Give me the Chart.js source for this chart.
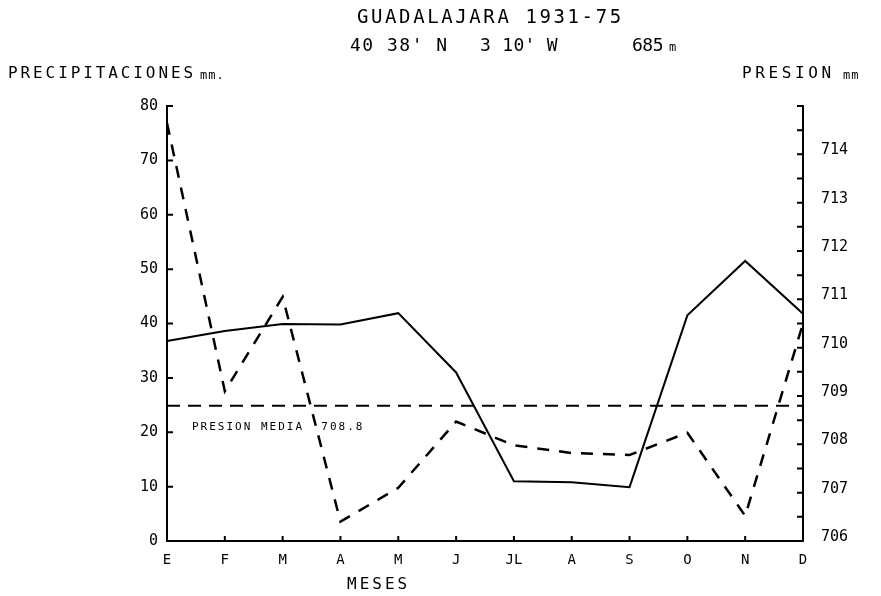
<!DOCTYPE html>
<html>
<head>
<meta charset="utf-8">
<script src="https://cdn.jsdelivr.net/npm/chart.js@4/dist/chart.umd.min.js"></script>
<style>
  body { margin: 0; background: #fff; }
</style>
</head>
<body>
<canvas id="climaChart" width="881" height="596"></canvas>
<script>
const months = ['E', 'F', 'M', 'A', 'M', 'J', 'JL', 'A', 'S', 'O', 'N', 'D'];
const precipitation = [36.8, 38.6, 39.9, 39.8, 41.9, 31, 11, 10.8, 9.9, 41.5, 51.5, 41.8];
const pressure = [714.65, 709.1, 711.05, 706.4, 707.1, 708.47, 707.98, 707.82, 707.78, 708.24, 706.52, 710.5];
const pressureMean = 708.8;
const precipRange = [0, 80];
const pressureRange = [706, 715];

const MONO = 'DejaVu Sans Mono';

function spacedText(ctx, text, x, y, size, spacing, align) {
    ctx.save();
    ctx.font = size + 'px "' + MONO + '"';
    ctx.letterSpacing = spacing + 'px';
    ctx.fillStyle = '#000';
    ctx.textAlign = align || 'left';
    ctx.textBaseline = 'middle';
    ctx.fillText(text, x, y);
    ctx.restore();
}

// marcas hacia dentro y rotulos
const decoPlugin = {
    id: 'deco',
    afterDraw(chart) {
        const ctx = chart.ctx;
        const area = chart.chartArea;
        const { x, y, y2 } = chart.scales;

        ctx.save();
        ctx.strokeStyle = '#000';
        ctx.lineWidth = 2;
        ctx.beginPath();
        y.ticks.forEach(t => {
            const py = y.getPixelForValue(t.value);
            ctx.moveTo(area.left, py);
            ctx.lineTo(area.left + 6, py);
        });
        y2.ticks.forEach(t => {
            const py = y2.getPixelForValue(t.value);
            ctx.moveTo(area.right, py);
            ctx.lineTo(area.right - 6, py);
        });
        months.forEach((m, i) => {
            const px = x.getPixelForTick(i);
            ctx.moveTo(px, area.bottom);
            ctx.lineTo(px, area.bottom - 5);
        });
        ctx.stroke();
        ctx.restore();

        // titulos
        spacedText(ctx, 'GUADALAJARA 1931-75', 357, 18, 19, 2.6);
        spacedText(ctx, "40 38' N", 350, 46, 18, 1.5);
        spacedText(ctx, "3 10' W", 480, 46, 18, 0.3);
        spacedText(ctx, '685', 632, 46, 18, -0.5);
        spacedText(ctx, 'm', 669, 48, 12, 0);

        spacedText(ctx, 'PRECIPITACIONES', 8, 74, 16, 2.9);
        spacedText(ctx, 'mm.', 200, 76, 12, 1);
        spacedText(ctx, 'PRESION', 742, 74, 16, 3.6);
        spacedText(ctx, 'mm', 843, 76, 12, 1);

        spacedText(ctx, 'MESES', 347, 585, 16, 3);

        const my = y2.getPixelForValue(pressureMean);
        spacedText(ctx, 'PRESION MEDIA  ' + pressureMean.toFixed(1), 192, my + 21, 11, 2);
    }
};

const ctx = document.getElementById('climaChart').getContext('2d');
const climaChart = new Chart(ctx, {
    type: 'line',
    data: {
        labels: months,
        datasets: [{
            label: 'Precipitaciones (mm)',
            data: precipitation,
            yAxisID: 'y',
            borderColor: '#000',
            borderWidth: 2,
            pointRadius: 0,
            tension: 0,
            fill: false
        }, {
            label: 'Presion (mm)',
            data: pressure,
            yAxisID: 'y2',
            borderColor: '#000',
            borderWidth: 2.5,
            borderDash: [12, 10],
            pointRadius: 0,
            tension: 0,
            fill: false
        }, {
            label: 'Presion media',
            data: months.map(() => pressureMean),
            yAxisID: 'y2',
            borderColor: '#000',
            borderWidth: 2,
            borderDash: [13, 8],
            pointRadius: 0,
            fill: false
        }]
    },
    options: {
        responsive: false,
        animation: false,
        layout: { padding: { top: 106, left: 0, right: 0, bottom: 0 } },
        plugins: {
            legend: { display: false },
            tooltip: { enabled: false }
        },
        scales: {
            x: {
                offset: false,
                grid: { display: true, drawOnChartArea: false, drawTicks: false },
                border: { display: true, color: '#000', width: 2 },
                ticks: {
                    color: '#000',
                    font: { family: MONO, size: 14 },
                    padding: 11,
                    maxRotation: 0,
                    autoSkip: false
                },
                afterFit(scale) { scale.height = 55; }
            },
            y: {
                position: 'left',
                min: precipRange[0],
                max: precipRange[1],
                grid: { display: true, drawOnChartArea: false, drawTicks: false },
                border: { display: true, color: '#000', width: 2 },
                ticks: {
                    stepSize: 10,
                    color: '#000',
                    font: { family: MONO, size: 15 },
                    padding: 9
                },
                afterFit(scale) { scale.width = 167; }
            },
            y2: {
                position: 'right',
                min: pressureRange[0],
                max: pressureRange[1],
                grid: { display: true, drawOnChartArea: false, drawTicks: false },
                border: { display: true, color: '#000', width: 2 },
                ticks: {
                    stepSize: 0.5,
                    autoSkip: false,
                    color: '#000',
                    font: { family: MONO, size: 15 },
                    padding: 18,
                    labelOffset: -4,
                    callback: v => (Number.isInteger(v) && v < pressureRange[1]) ? v : ''
                },
                afterFit(scale) { scale.width = 78; }
            }
        }
    },
    plugins: [decoPlugin]
});
</script>
</body>
</html>
